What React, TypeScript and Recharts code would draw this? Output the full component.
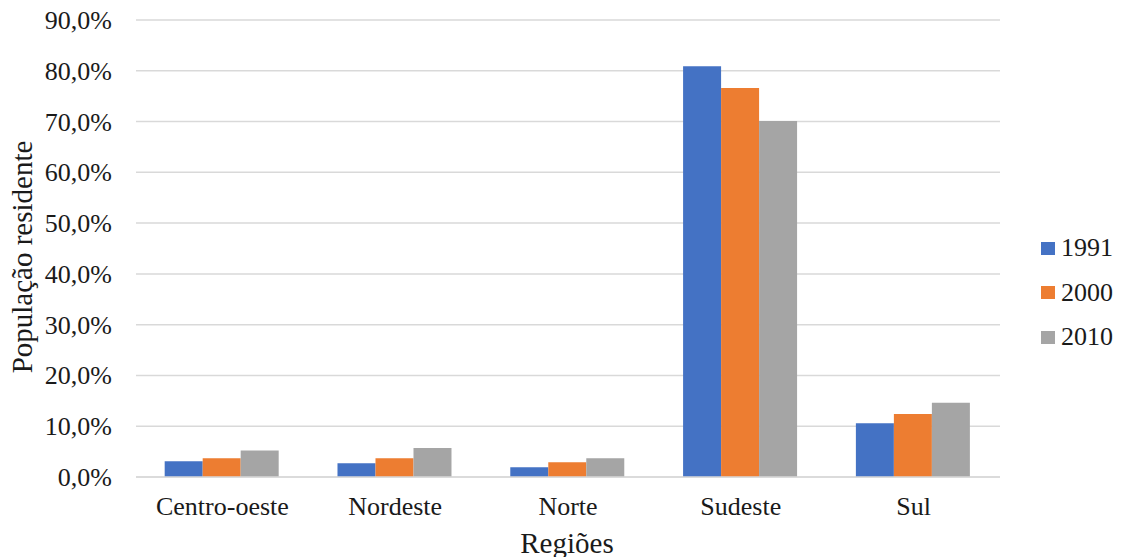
import { BarChart, Bar, XAxis, YAxis, CartesianGrid } from 'recharts';

// Participação de cada região na população residente (%)
const regioes = ['Centro-oeste', 'Nordeste', 'Norte', 'Sudeste', 'Sul'];
const pop1991 = [3.1, 2.7, 1.9, 80.9, 10.6];
const pop2000 = [3.7, 3.7, 2.9, 76.6, 12.4];
const pop2010 = [5.2, 5.7, 3.7, 70.1, 14.6];
const yTicks = [0, 10, 20, 30, 40, 50, 60, 70, 80, 90];

const series = [
    { key: 'a1991', name: '1991', color: '#4472C4' },
    { key: 'a2000', name: '2000', color: '#ED7D31' },
    { key: 'a2010', name: '2010', color: '#A5A5A5' },
];

const data = regioes.map((regiao, i) => ({
    regiao,
    a1991: pop1991[i],
    a2000: pop2000[i],
    a2010: pop2010[i],
}));

const FONT = '"Liberation Serif", "Times New Roman", serif';
const TEXT = '#1a1a1a';

const fmtPct = (v: number) => `${v.toFixed(1).replace('.', ',')}%`;

function XTick({ x, y, payload }: any) {
    return (
        <text x={x} y={y + 38} textAnchor="middle" fontFamily={FONT} fontSize={26} fill={TEXT}>
            {payload.value}
        </text>
    );
}

function YTick({ x, y, payload }: any) {
    return (
        <text x={x} y={y + 9} textAnchor="end" fontFamily={FONT} fontSize={26} fill={TEXT}>
            {fmtPct(payload.value)}
        </text>
    );
}

export default function App() {
    return (
        <div style={{ position: 'absolute', left: 0, top: 0, width: 1122, height: 557, background: '#fff', fontFamily: FONT }}>
            <BarChart
                width={1122}
                height={557}
                data={data}
                margin={{ top: 20, right: 122, left: 0, bottom: 0 }}
                barGap={0}
                barCategoryGap="16.6%"
            >
                <CartesianGrid vertical={false} stroke="#D9D9D9" strokeWidth={1.5} />
                <XAxis
                    dataKey="regiao"
                    height={80}
                    axisLine={{ stroke: '#D9D9D9', strokeWidth: 1.5 }}
                    tickLine={false}
                    tickSize={0}
                    tickMargin={0}
                    tick={<XTick />}
                    interval={0}
                />
                <YAxis
                    width={136}
                    domain={[0, 90]}
                    ticks={yTicks}
                    axisLine={false}
                    tickLine={false}
                    tickSize={0}
                    tickMargin={24}
                    tick={<YTick />}
                />
                {series.map((s) => (
                    <Bar key={s.key} dataKey={s.key} name={s.name} fill={s.color} isAnimationActive={false} />
                ))}
            </BarChart>
            <div style={{ position: 'absolute', left: 1041, top: 226, fontSize: 26, color: TEXT }}>
                {series.map((s) => (
                    <div key={s.key} style={{ display: 'flex', alignItems: 'center', height: 44.5 }}>
                        <span style={{ width: 14, height: 13, background: s.color, marginRight: 6 }} />
                        <span>{s.name}</span>
                    </div>
                ))}
            </div>
            <div
                style={{
                    position: 'absolute',
                    left: 567,
                    top: 543,
                    transform: 'translate(-50%, -50%)',
                    fontSize: 29,
                    color: TEXT,
                    whiteSpace: 'nowrap',
                }}
            >
                Regiões
            </div>
            <div
                style={{
                    position: 'absolute',
                    left: 22,
                    top: 257,
                    transform: 'translate(-50%, -50%) rotate(-90deg)',
                    fontSize: 29,
                    color: TEXT,
                    whiteSpace: 'nowrap',
                }}
            >
                População residente
            </div>
        </div>
    );
}
